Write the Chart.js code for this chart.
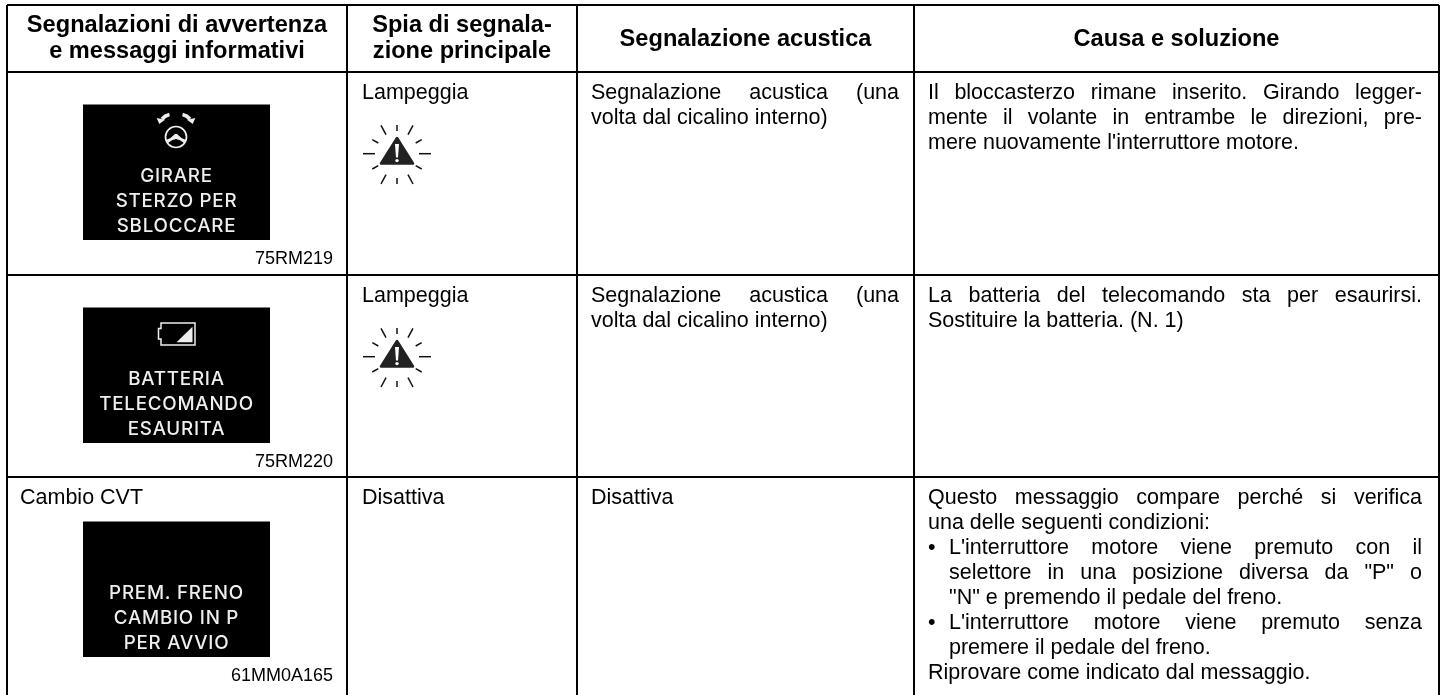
<!DOCTYPE html>
<html>
<head>
<meta charset="utf-8">
<title>Segnalazioni di avvertenza</title>
<script src="https://cdn.jsdelivr.net/npm/chart.js@4"></script>
<style>
  html, body { margin: 0; padding: 0; background: #fff; overflow: hidden; }
  canvas { display: block; }
</style>
</head>
<body>
<canvas id="tabella" width="1445" height="695"></canvas>
<script>
// contenuto della tabella
const intestazioni = [
  ["Segnalazioni di avvertenza", "e messaggi informativi"],
  ["Spia di segnala-", "zione principale"],
  ["Segnalazione acustica"],
  ["Causa e soluzione"]
];
const titoliRiga = ["", "", "Cambio CVT"];
const messaggi = [
  ["GIRARE", "STERZO PER", "SBLOCCARE"],
  ["BATTERIA", "TELECOMANDO", "ESAURITA"],
  ["PREM. FRENO", "CAMBIO IN P", "PER AVVIO"]
];
const codici = ["75RM219", "75RM220", "61MM0A165"];
const spia = ["Lampeggia", "Lampeggia", "Disattiva"];
const acustica = [
  ["Segnalazione acustica (una", "volta dal cicalino interno)"],
  ["Segnalazione acustica (una", "volta dal cicalino interno)"],
  ["Disattiva"]
];
const causa = [
  ["Il bloccasterzo rimane inserito. Girando legger-",
   "mente il volante in entrambe le direzioni, pre-",
   "mere nuovamente l'interruttore motore."],
  ["La batteria del telecomando sta per esaurirsi.",
   "Sostituire la batteria. (N. 1)"],
  ["Questo messaggio compare perché si verifica",
   "una delle seguenti condizioni:",
   "• L'interruttore motore viene premuto con il",
   "selettore in una posizione diversa da \"P\" o",
   "\"N\" e premendo il pedale del freno.",
   "• L'interruttore motore viene premuto senza",
   "premere il pedale del freno.",
   "Riprovare come indicato dal messaggio."]
];

// griglia e posizioni, in unita' degli assi
const bordiColonne = [7, 347, 577, 914, 1439];
const bordiRighe = [5, 72, 275, 477];
const spiaX = [397, 397];
const spiaY = [153, 356];
const boxTop = [104.5, 307.5, 521.5];
const BOX_L = 83, BOX_R = 270, BOX_H = 135.5;

const FONT = '"Liberation Sans", Arial, sans-serif';
const FONT_LCD = 'Inter, "Noto Sans", sans-serif';

// icona della spia: triangolo con raggi
function iconaSpia() {
  const c = document.createElement('canvas');
  c.width = 72; c.height = 66;
  const g = c.getContext('2d');
  g.translate(36, 33);
  g.strokeStyle = '#111';
  g.lineWidth = 1.5;
  const raggi = [
    [0, -28, 0, -22], [0, 25, 0, 31],
    [-34, 0.7, -22, 0.7], [34, 0.7, 22, 0.7],
    [-16, -27.7, -11, -18.3], [16, -27.7, 11, -18.3],
    [-24.7, -13.3, -18.7, -10], [24.7, -13.3, 18.7, -10],
    [-24.7, 16, -18.7, 12.7], [24.7, 16, 18.7, 12.7],
    [-16, 31, -11, 21.7], [16, 31, 11, 21.7]
  ];
  raggi.forEach(r => {
    g.beginPath(); g.moveTo(r[0], r[1]); g.lineTo(r[2], r[3]); g.stroke();
  });
  g.fillStyle = '#222'; g.strokeStyle = '#222';
  g.lineWidth = 2.5; g.lineJoin = 'round';
  g.beginPath(); g.moveTo(0, -15); g.lineTo(16, 10.5); g.lineTo(-16, 10.5); g.closePath();
  g.fill(); g.stroke();
  g.fillStyle = '#fff';
  g.beginPath(); g.moveTo(-2, -9); g.lineTo(2, -9); g.lineTo(1, 4.5); g.lineTo(-1, 4.5); g.closePath(); g.fill();
  g.beginPath(); g.arc(0, 7.6, 1.7, 0, Math.PI * 2); g.fill();
  return c;
}

function riga(ctx, testo, x, y, larghezza) {
  // riga giustificata: allarga solo gli spazi
  ctx.wordSpacing = '0px';
  if (larghezza) {
    const spazi = testo.split(' ').length - 1;
    const extra = (larghezza - ctx.measureText(testo).width) / spazi;
    ctx.wordSpacing = extra + 'px';
  }
  ctx.fillText(testo, x, y);
  ctx.wordSpacing = '0px';
}

function simboloSterzo(ctx, cx, cy) {
  ctx.strokeStyle = '#eee'; ctx.fillStyle = '#eee';
  ctx.lineWidth = 1.7;
  ctx.beginPath(); ctx.arc(cx, cy, 10.5, 0, Math.PI * 2); ctx.stroke();
  // mozzo del volante
  ctx.beginPath();
  ctx.moveTo(cx - 10, cy + 3);
  ctx.quadraticCurveTo(cx - 5, cy + 1.5, cx - 1, cy - 3);
  ctx.lineTo(cx + 1, cy - 3);
  ctx.quadraticCurveTo(cx + 5, cy + 1.5, cx + 10, cy + 3);
  ctx.lineTo(cx + 8, cy + 6);
  ctx.quadraticCurveTo(cx + 4, cy + 2.5, cx, cy + 2);
  ctx.quadraticCurveTo(cx - 4, cy + 2.5, cx - 8, cy + 6);
  ctx.closePath();
  ctx.fill();
  // frecce
  [-1, 1].forEach(s => {
    ctx.lineWidth = 3.6;
    ctx.beginPath();
    ctx.moveTo(cx + s * 6.5, cy - 22.5);
    ctx.quadraticCurveTo(cx + s * 11, cy - 21.5, cx + s * 14, cy - 18);
    ctx.stroke();
    ctx.beginPath();
    ctx.moveTo(cx + s * 19.3, cy - 19);
    ctx.lineTo(cx + s * 16.7, cy - 13);
    ctx.lineTo(cx + s * 11, cy - 17.3);
    ctx.closePath();
    ctx.fill();
  });
}

function simboloBatteria(ctx, x, y) {
  ctx.strokeStyle = '#eee'; ctx.fillStyle = '#eee';
  ctx.lineWidth = 1.5;
  ctx.beginPath();
  ctx.moveTo(x + 2.5, y);
  ctx.lineTo(x + 36.5, y);
  ctx.lineTo(x + 36.5, y + 22);
  ctx.lineTo(x + 2.5, y + 22);
  ctx.lineTo(x + 2.5, y + 16);
  ctx.lineTo(x, y + 16);
  ctx.lineTo(x, y + 5.5);
  ctx.lineTo(x + 2.5, y + 5.5);
  ctx.closePath();
  ctx.stroke();
  ctx.beginPath();
  ctx.moveTo(x + 18, y + 19.3);
  ctx.lineTo(x + 34, y + 3.7);
  ctx.lineTo(x + 34, y + 19.3);
  ctx.closePath();
  ctx.fill();
}

const CAUSA_X = 928, CAUSA_R = 1422, RIENTRO = 21;
const giustificate = [[0, 1], [0], [0, 2, 3, 5]];

const testoTabella = {
  id: 'testoTabella',
  afterDatasetsDraw(chart) {
    const { ctx, scales: { x, y } } = chart;
    const px = v => x.getPixelForValue(v);
    const py = v => y.getPixelForValue(v);
    ctx.save();
    ctx.textBaseline = 'alphabetic';
    ctx.fillStyle = '#000';

    // intestazioni
    ctx.font = 'bold 23.6px ' + FONT;
    ctx.textAlign = 'center';
    intestazioni.forEach((righe, i) => {
      const cx = (px(bordiColonne[i]) + px(bordiColonne[i + 1])) / 2;
      const base = righe.length === 2 ? 32 : 46;
      righe.forEach((t, k) => ctx.fillText(t, cx, py(base + k * 26)));
    });

    // corpo
    ctx.textAlign = 'left';
    [0, 1, 2].forEach(r => {
      const base = bordiRighe[r + 1] + 27;
      ctx.fillStyle = '#000';
      ctx.font = '21.5px ' + FONT;
      if (titoliRiga[r]) ctx.fillText(titoliRiga[r], px(20), py(base));
      ctx.fillText(spia[r], px(362), py(base));
      acustica[r].forEach((t, k) => {
        riga(ctx, t, px(591), py(base + k * 25), acustica[r].length > 1 && k === 0 ? 308 : 0);
      });
      causa[r].forEach((t, k) => {
        const just = giustificate[r].includes(k);
        const puntato = t.startsWith('• ');
        const rientrato = r === 2 && k >= 2 && k <= 6;
        const xx = CAUSA_X + (rientrato ? RIENTRO : 0);
        if (puntato) ctx.fillText('•', px(CAUSA_X), py(base + k * 25));
        riga(ctx, puntato ? t.slice(2) : t, px(xx), py(base + k * 25), just ? CAUSA_R - xx : 0);
      });

      // riquadro del messaggio
      const bt = boxTop[r];
      ctx.fillStyle = '#000';
      ctx.fillRect(px(BOX_L), py(bt), px(BOX_R) - px(BOX_L), py(bt + BOX_H) - py(bt));
      ctx.fillStyle = '#eee';
      ctx.font = '500 18.8px ' + FONT_LCD;
      ctx.letterSpacing = '0.75px';
      ctx.textAlign = 'center';
      messaggi[r].forEach((t, k) => {
        ctx.fillText(t, px((BOX_L + BOX_R) / 2), py(bt + 77 + k * 25));
      });
      ctx.letterSpacing = '0px';
      ctx.fillStyle = '#000';
      ctx.font = '18px ' + FONT;
      ctx.textAlign = 'right';
      ctx.fillText(codici[r], px(333), py(bt + 159.5));
      ctx.textAlign = 'left';
    });

    simboloSterzo(ctx, px(176), py(137));
    simboloBatteria(ctx, px(158.5), py(323));
    ctx.restore();
  }
};

const griglia = {
  color: '#000',
  lineWidth: 2,
  drawTicks: false,
  drawOnChartArea: true
};

new Chart(document.getElementById('tabella').getContext('2d'), {
  type: 'scatter',
  data: {
    datasets: [{
      label: 'Spia di segnalazione',
      data: spiaX.map((v, i) => ({ x: v, y: spiaY[i] })),
      pointStyle: iconaSpia(),
      pointRadius: 30,
      clip: false
    }]
  },
  options: {
    responsive: false,
    animation: false,
    layout: { autoPadding: false, padding: { left: 7, right: 6, top: 5, bottom: 0 } },
    plugins: { legend: { display: false }, tooltip: { enabled: false }, title: { display: false } },
    scales: {
      x: {
        type: 'linear', min: 7, max: 1439,
        grid: griglia,
        border: { display: false },
        ticks: { display: false },
        afterBuildTicks: s => { s.ticks = bordiColonne.map(v => ({ value: v })); }
      },
      y: {
        type: 'linear', min: 5, max: 695, reverse: true,
        grid: griglia,
        border: { display: false },
        ticks: { display: false },
        afterBuildTicks: s => { s.ticks = bordiRighe.map(v => ({ value: v })); }
      }
    }
  },
  plugins: [testoTabella]
});
</script>
</body>
</html>
